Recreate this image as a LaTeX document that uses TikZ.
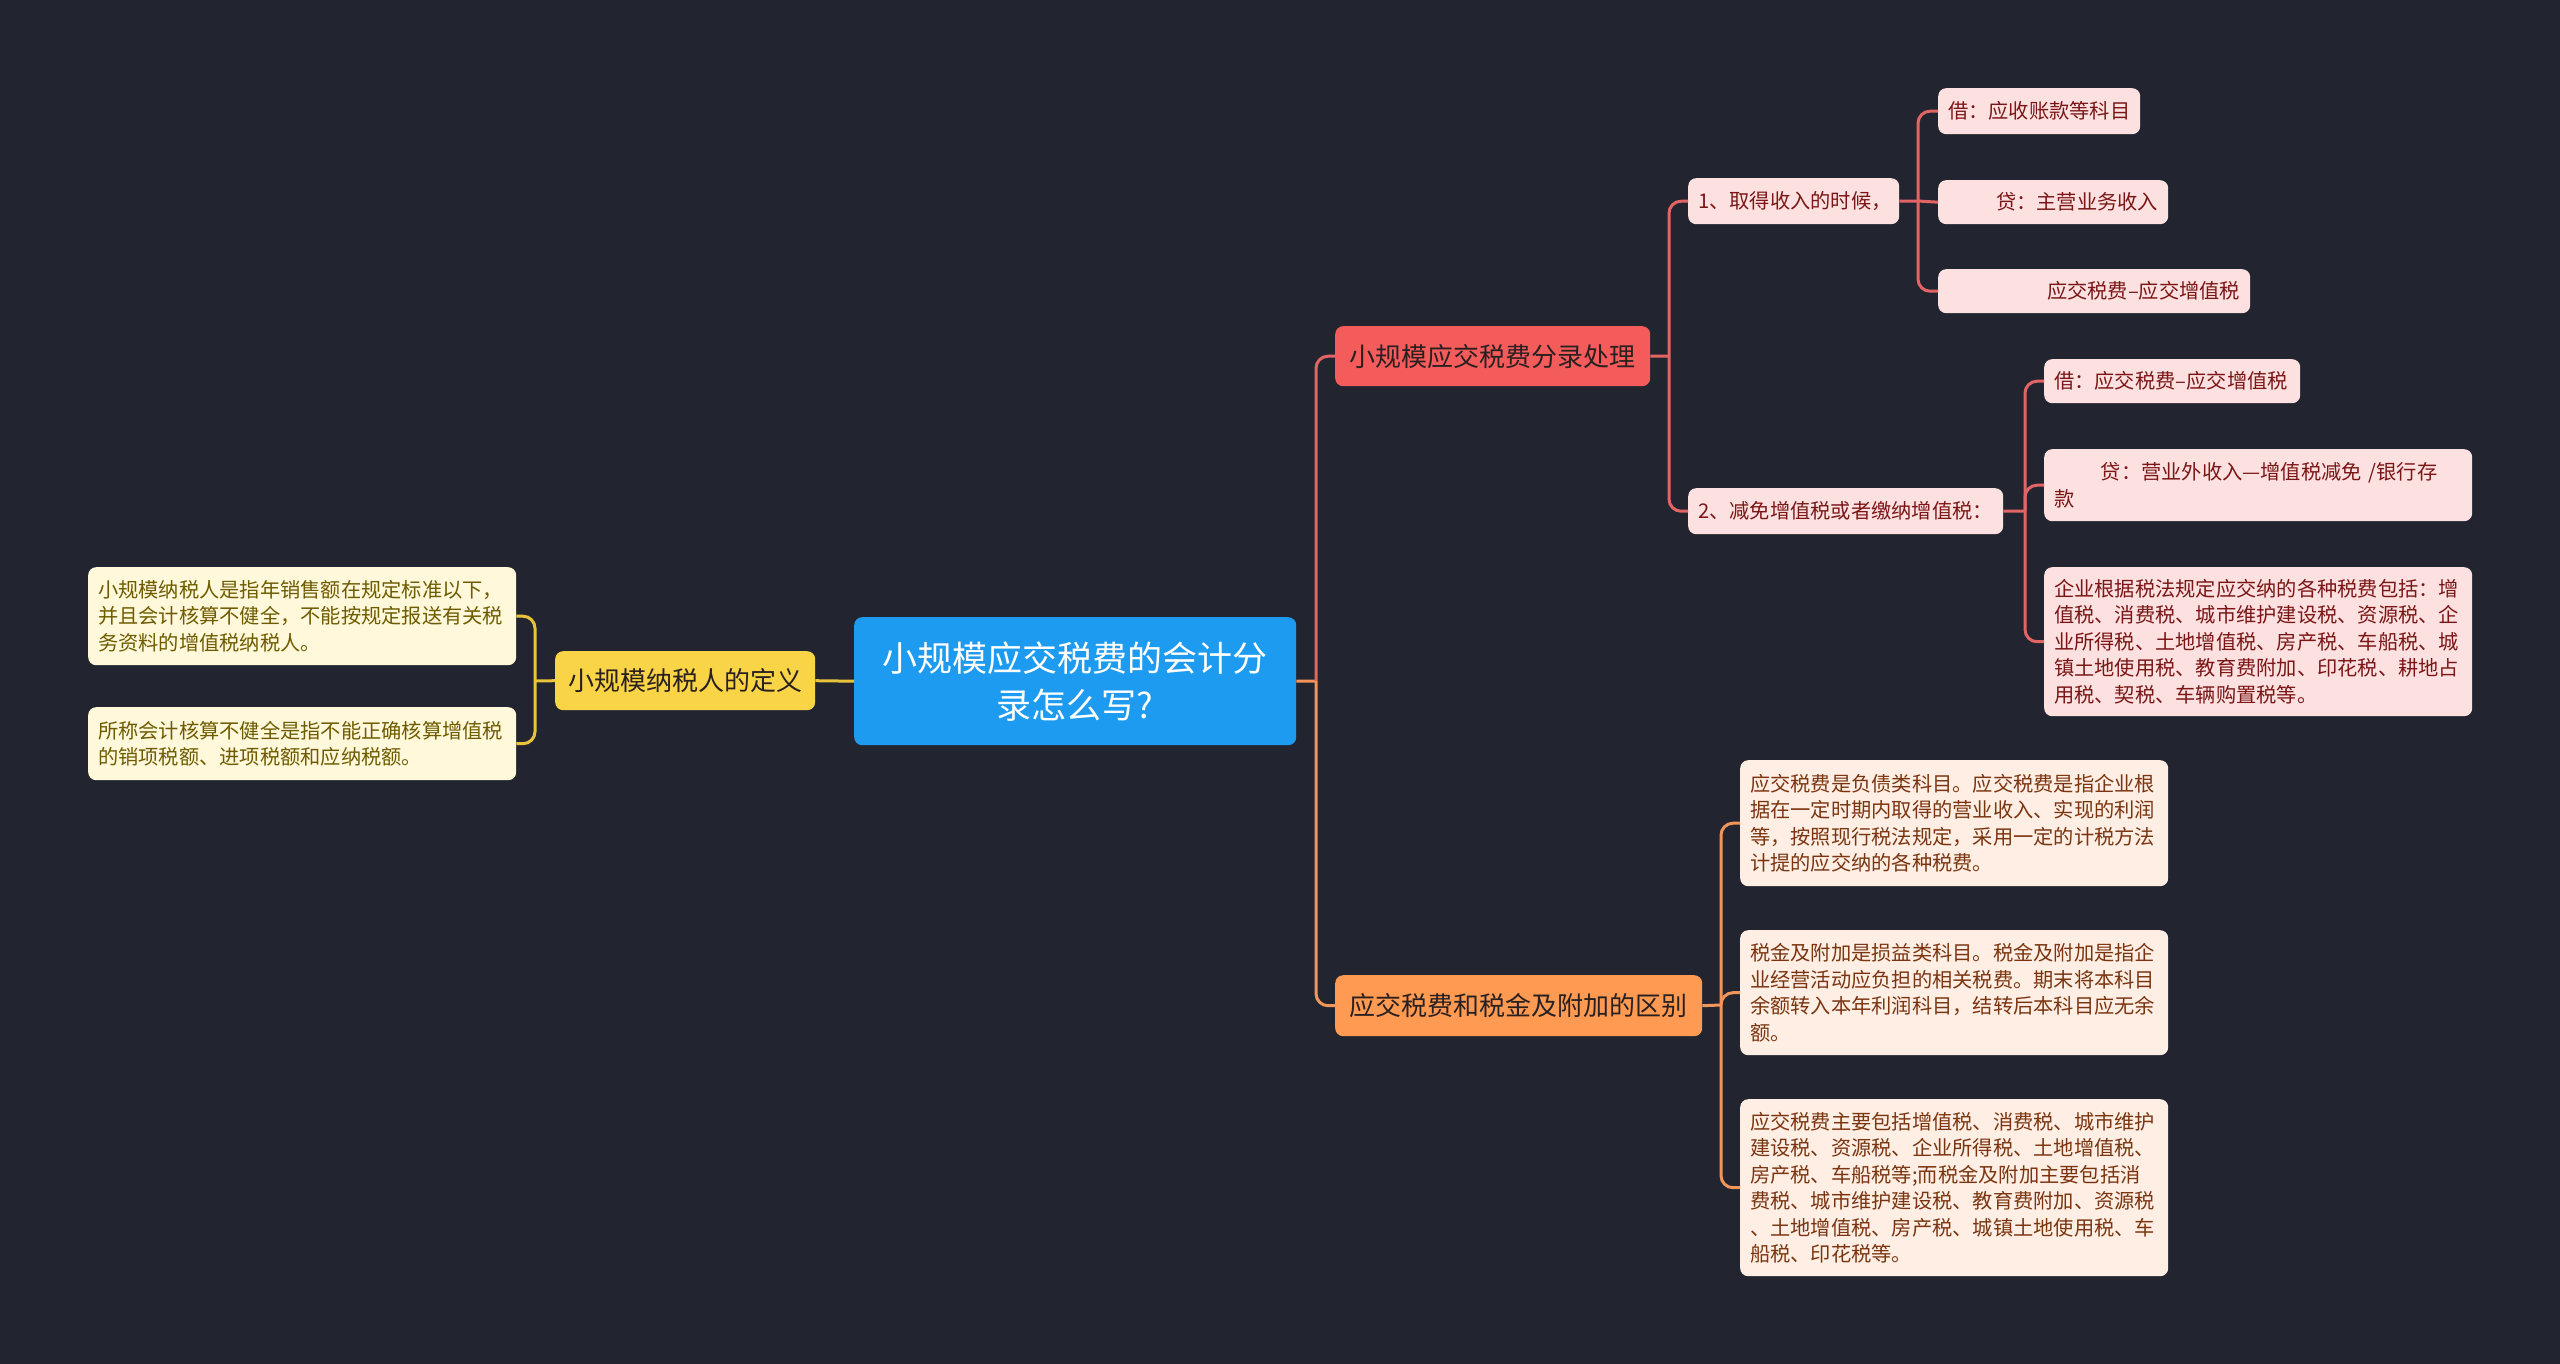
\documentclass[tikz,border=0pt]{standalone}
\usepackage{fontspec}
\setmainfont{Noto Sans CJK SC}
\definecolor{bg}{HTML}{22252F}
\definecolor{rootc}{HTML}{1D9BF0}
\definecolor{redc}{HTML}{F45B5B}
\definecolor{redleaf}{HTML}{FDE0E0}
\definecolor{redtext}{HTML}{7B1616}
\definecolor{redline}{HTML}{E36464}
\definecolor{orc}{HTML}{FF9A52}
\definecolor{orleaf}{HTML}{FFEEE4}
\definecolor{ortext}{HTML}{7A3510}
\definecolor{orline}{HTML}{F2955A}
\definecolor{yc}{HTML}{F9D447}
\definecolor{yleaf}{HTML}{FFF8DA}
\definecolor{ytext}{HTML}{6E5B00}
\definecolor{yline}{HTML}{E9C43B}
\definecolor{dtext}{HTML}{2A2020}
\tikzset{
  box/.style={rectangle, rounded corners=8pt, inner xsep=10pt, inner ysep=0pt, anchor=north west},
  leafbox/.style={box, align=left, font=\fontsize{20.25}{26.5}\selectfont},
  mainbox/.style={box, align=center, text=dtext, font=\fontsize{26}{32}\selectfont},
  redleafbox/.style={leafbox, fill=redleaf, text=redtext},
  orleafbox/.style={leafbox, fill=orleaf, text=ortext},
  yleafbox/.style={leafbox, fill=yleaf, text=ytext},
  conn/.style={line width=3pt, rounded corners=12pt},
  redln/.style={conn, draw=redline},
  orln/.style={conn, draw=orline},
  yln/.style={conn, draw=yline},
}
\begin{document}
\begin{tikzpicture}[x=1pt,y=-1pt]
\fill[bg] (0,0) rectangle (2560,1364);
\useasboundingbox (0,0) rectangle (2560,1364);

% root
\node[box, fill=rootc, text=white, align=center, text width=422pt, minimum height=128pt,
      font=\fontsize{35}{47}\selectfont] (root) at (854,617) {小规模应交税费的会计分\\录怎么写?};

% main branches
\node[mainbox, fill=yc, text width=240pt, minimum height=59pt] (yel) at (555,651) {小规模纳税人的定义};
\node[mainbox, fill=redc, text width=295pt, minimum height=60pt] (red) at (1335,326) {小规模应交税费分录处理};
\node[mainbox, fill=orc, text width=347pt, minimum height=61pt] (ora) at (1335,975) {应交税费和税金及附加的区别};

% left leaves
\node[yleafbox, text width=408pt, minimum height=98pt] (L1) at (88,567) {小规模纳税人是指年销售额在规定标准以下，\\并且会计核算不健全，不能按规定报送有关税\\务资料的增值税纳税人。};
\node[yleafbox, text width=408pt, minimum height=73pt] (L2) at (88,707) {所称会计核算不健全是指不能正确核算增值税\\的销项税额、进项税额和应纳税额。};

% red subtree
\node[redleafbox, text width=191pt, minimum height=46pt] (i1) at (1688,178) {1、取得收入的时候，};
\node[redleafbox, text width=295pt, minimum height=46pt] (i2) at (1688,488) {2、减免增值税或者缴纳增值税：};
\node[redleafbox, text width=182pt, minimum height=46pt] (r1) at (1938,88) {借：应收账款等科目};
\node[redleafbox, align=right, text width=210pt, minimum height=44pt] (r2) at (1938,180) {贷：主营业务收入};
\node[redleafbox, align=right, text width=292pt, minimum height=44pt] (r3) at (1938,269) {应交税费–应交增值税};
\node[redleafbox, text width=236pt, minimum height=44pt] (r4) at (2044,359) {借：应交税费–应交增值税};
\node[redleafbox, text width=408pt, minimum height=72pt] (r5) at (2044,449) {\hspace*{2.3em}贷：营业外收入—增值税减免 /银行存\\款};
\node[redleafbox, text width=408pt, minimum height=149pt] (r6) at (2044,567) {企业根据税法规定应交纳的各种税费包括：增\\值税、消费税、城市维护建设税、资源税、企\\业所得税、土地增值税、房产税、车船税、城\\镇土地使用税、教育费附加、印花税、耕地占\\用税、契税、车辆购置税等。};

% orange subtree
\node[orleafbox, text width=408pt, minimum height=126pt] (o1) at (1740,760) {应交税费是负债类科目。应交税费是指企业根\\据在一定时期内取得的营业收入、实现的利润\\等，按照现行税法规定，采用一定的计税方法\\计提的应交纳的各种税费。};
\node[orleafbox, text width=408pt, minimum height=125pt] (o2) at (1740,930) {税金及附加是损益类科目。税金及附加是指企\\业经营活动应负担的相关税费。期末将本科目\\余额转入本年利润科目，结转后本科目应无余\\额。};
\node[orleafbox, text width=408pt, minimum height=177pt] (o3) at (1740,1099) {应交税费主要包括增值税、消费税、城市维护\\建设税、资源税、企业所得税、土地增值税、\\房产税、车船税等;而税金及附加主要包括消\\费税、城市维护建设税、教育费附加、资源税\\、土地增值税、房产税、城镇土地使用税、车\\船税、印花税等。};

% junctions
\coordinate (jroot) at (1316,681);
\coordinate (jy) at (535,681);
\coordinate (jred) at (1669,356);
\coordinate (jor) at (1721,1005);
\coordinate (ji1) at (1918,201);
\coordinate (ji2) at (2025,511);

% connectors
\draw[orln] (root.east) -- (jroot);
\draw[redln] (jroot) |- (red.west);
\draw[orln] (jroot) |- (ora.west);

\draw[yln] (root.west) -- (yel.east);
\draw[yln] (yel.west) -- (jy);
\draw[yln] (jy) |- (L1.east);
\draw[yln] (jy) |- (L2.east);

\draw[redln] (red.east) -- (jred);
\draw[redln] (jred) |- (i1.west);
\draw[redln] (jred) |- (i2.west);
\draw[redln] (i1.east) -- (ji1);
\draw[redln] (ji1) |- (r1.west);
\draw[redln] (ji1) -- (r2.west);
\draw[redln] (ji1) |- (r3.west);
\draw[redln] (i2.east) -- (ji2);
\draw[redln] (ji2) |- (r4.west);
\draw[redln] (ji2) |- (r5.west);
\draw[redln] (ji2) |- (r6.west);

\draw[orln] (ora.east) -- (jor);
\draw[orln] (jor) |- (o1.west);
\draw[orln] (jor) |- (o2.west);
\draw[orln] (jor) |- (o3.west);
\end{tikzpicture}
\end{document}
